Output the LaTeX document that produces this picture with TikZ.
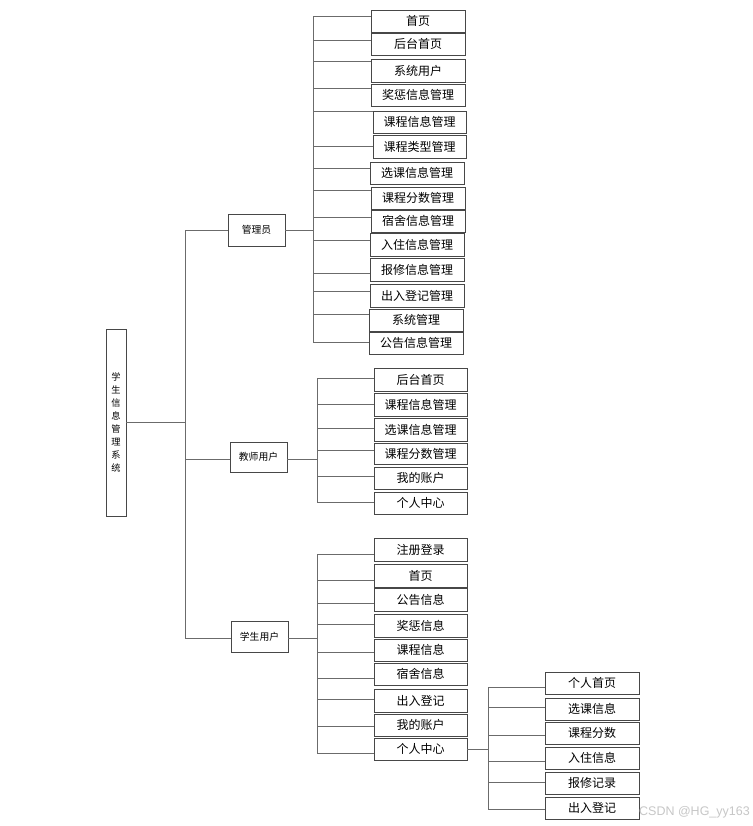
\documentclass[tikz,border=0pt]{standalone}
\usepackage{fontspec}
\setmainfont{Noto Sans CJK SC}
\newfontfamily\wmfont{Liberation Sans}
\begin{document}
\begin{tikzpicture}[x=1pt,y=-1pt,
  box/.style={draw=black!72,line width=0.9pt,fill=white,inner sep=0pt,minimum width=94pt,minimum height=22pt,font=\fontsize{12}{12}\selectfont},
  tbox/.style={box,minimum width=93pt},
  rolebox/.style={draw=black!72,line width=0.9pt,fill=white,inner sep=0pt,font=\fontsize{9.8}{10}\selectfont},
  ln/.style={draw=black!58,line width=1pt}]
\useasboundingbox[fill=white] (0,0) rectangle (752,826);

% root
\node[rolebox,minimum width=20pt,minimum height=187pt,align=center,font=\fontsize{9.2}{13}\selectfont] (root) at (116,422.5) {学\\生\\信\\息\\管\\理\\系\\统};
% roles
\node[rolebox,minimum width=57pt,minimum height=32pt] (adm) at (256.5,230) {管理员};
\node[rolebox,minimum width=57pt,minimum height=30pt] (tea) at (258.5,457) {教师用户};
\node[rolebox,minimum width=57pt,minimum height=31pt] (stu) at (259.5,636.5) {学生用户};

% admin items
\node[box] (a1) at (418,21) {首页};
\node[box] (a2) at (418,44) {后台首页};
\node[box,minimum height=23pt] (a3) at (418,70.5) {系统用户};
\node[box] (a4) at (418,95) {奖惩信息管理};
\node[box,minimum width=93pt] (a5) at (419.5,122) {课程信息管理};
\node[box,minimum width=93pt,minimum height=23pt] (a6) at (419.5,146.5) {课程类型管理};
\node[box] (a7) at (417,173) {选课信息管理};
\node[box] (a8) at (418,198) {课程分数管理};
\node[box] (a9) at (418,221) {宿舍信息管理};
\node[box,minimum height=23pt] (a10) at (417,244.5) {入住信息管理};
\node[box,minimum height=23pt] (a11) at (417,269.5) {报修信息管理};
\node[box,minimum height=23pt] (a12) at (417,295.5) {出入登记管理};
\node[box] (a13) at (416,320) {系统管理};
\node[box] (a14) at (416,343) {公告信息管理};

% teacher items
\node[tbox,minimum height=23pt] (t1) at (420.5,379.5) {后台首页};
\node[tbox,minimum height=23pt] (t2) at (420.5,404.5) {课程信息管理};
\node[tbox,minimum height=23pt] (t3) at (420.5,429.5) {选课信息管理};
\node[tbox,minimum height=21pt] (t4) at (420.5,453.5) {课程分数管理};
\node[tbox] (t5) at (420.5,478) {我的账户};
\node[tbox] (t6) at (420.5,503) {个人中心};

% student items
\node[tbox,minimum height=23pt] (s1) at (420.5,549.5) {注册登录};
\node[tbox,minimum height=23pt] (s2) at (420.5,575.5) {首页};
\node[tbox,minimum height=23pt] (s3) at (420.5,599.5) {公告信息};
\node[tbox,minimum height=23pt] (s4) at (420.5,625.5) {奖惩信息};
\node[tbox] (s5) at (420.5,650) {课程信息};
\node[tbox] (s6) at (420.5,674) {宿舍信息};
\node[tbox,minimum height=23pt] (s7) at (420.5,700.5) {出入登记};
\node[tbox] (s8) at (420.5,725) {我的账户};
\node[tbox] (s9) at (420.5,749) {个人中心};

% personal center items
\node[box] (p1) at (592,683) {个人首页};
\node[box] (p2) at (592,709) {选课信息};
\node[box] (p3) at (592,733) {课程分数};
\node[box] (p4) at (592,758) {入住信息};
\node[box] (p5) at (592,783) {报修记录};
\node[box] (p6) at (592,808) {出入登记};

% junctions
\coordinate (mj) at (185,422.5);
\coordinate (aj) at (313,230);
\coordinate (tj) at (317,459);
\coordinate (sj) at (317,638);
\coordinate (pj) at (488,749);

% root to roles
\draw[ln] (root.east) -- (mj);
\draw[ln] (mj) |- (adm.west);
\draw[ln] (mj) |- ([yshift=-2pt]tea.west);
\draw[ln] (mj) |- ([yshift=-1.5pt]stu.west);

% admin
\draw[ln] (adm.east) -- (aj);
\draw[ln] (aj) |- ([yshift=4pt]a1.west);
\draw[ln] (aj) |- ([yshift=3pt]a2.west);
\draw[ln] (aj) |- ([yshift=8.5pt]a3.west);
\draw[ln] (aj) |- ([yshift=6pt]a4.west);
\draw[ln] (aj) |- ([yshift=10pt]a5.west);
\draw[ln] (aj) |- (a6.west);
\draw[ln] (aj) |- ([yshift=4pt]a7.west);
\draw[ln] (aj) |- ([yshift=7pt]a8.west);
\draw[ln] (aj) |- ([yshift=3pt]a9.west);
\draw[ln] (aj) |- ([yshift=4.5pt]a10.west);
\draw[ln] (aj) |- ([yshift=-3.5pt]a11.west);
\draw[ln] (aj) |- ([yshift=4.5pt]a12.west);
\draw[ln] (aj) |- ([yshift=6pt]a13.west);
\draw[ln] (aj) |- ([yshift=1pt]a14.west);

% teacher
\draw[ln] ([yshift=-2pt]tea.east) -- (tj);
\draw[ln] (tj) |- ([yshift=1.5pt]t1.west);
\draw[ln] (tj) |- ([yshift=0.5pt]t2.west);
\draw[ln] (tj) |- ([yshift=1.5pt]t3.west);
\draw[ln] (tj) |- ([yshift=3.5pt]t4.west);
\draw[ln] (tj) |- ([yshift=2pt]t5.west);
\draw[ln] (tj) |- ([yshift=1pt]t6.west);

% student
\draw[ln] ([yshift=-1.5pt]stu.east) -- (sj);
\draw[ln] (sj) |- ([yshift=-4.5pt]s1.west);
\draw[ln] (sj) |- ([yshift=-4.5pt]s2.west);
\draw[ln] (sj) |- ([yshift=-3.5pt]s3.west);
\draw[ln] (sj) |- ([yshift=1.5pt]s4.west);
\draw[ln] (sj) |- ([yshift=-2pt]s5.west);
\draw[ln] (sj) |- ([yshift=-4pt]s6.west);
\draw[ln] (sj) |- ([yshift=1.5pt]s7.west);
\draw[ln] (sj) |- ([yshift=-1pt]s8.west);
\draw[ln] (sj) |- ([yshift=-4pt]s9.west);

% personal center
\draw[ln] (s9.east) -- (pj);
\draw[ln] (pj) |- ([yshift=-4pt]p1.west);
\draw[ln] (pj) |- ([yshift=2pt]p2.west);
\draw[ln] (pj) |- ([yshift=-2pt]p3.west);
\draw[ln] (pj) |- ([yshift=-3pt]p4.west);
\draw[ln] (pj) |- ([yshift=1pt]p5.west);
\draw[ln] (pj) |- ([yshift=-1pt]p6.west);

% watermark
\node[anchor=east,text=black!22,font=\wmfont\fontsize{12.5}{12.5}\selectfont,inner sep=0pt] (wm) at (750,812) {CSDN @HG\_yy163};
\end{tikzpicture}
\end{document}
